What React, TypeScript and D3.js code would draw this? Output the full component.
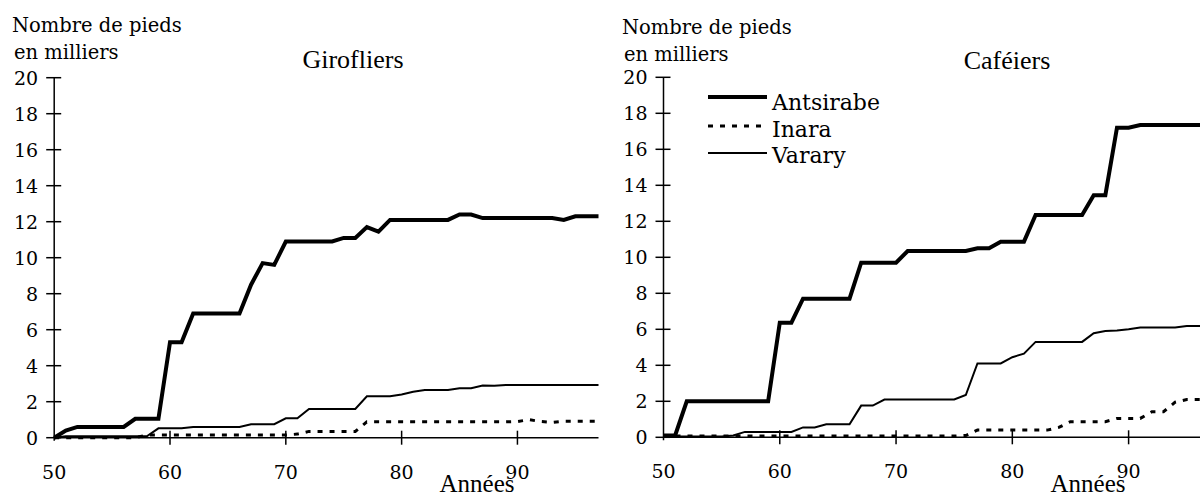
import * as d3 from 'd3';

// années 50 à 97, nombre de pieds en milliers
const years = d3.range(50, 98);

const giroAntsirabe = [
  0, 0.4, 0.6, 0.6, 0.6, 0.6, 0.6, 1.05, 1.05, 1.05,
  5.3, 5.3, 6.9, 6.9, 6.9, 6.9, 6.9, 8.5, 9.7, 9.6,
  10.9, 10.9, 10.9, 10.9, 10.9, 11.1, 11.1, 11.7, 11.45, 12.1,
  12.1, 12.1, 12.1, 12.1, 12.1, 12.4, 12.4, 12.2, 12.2, 12.2,
  12.2, 12.2, 12.2, 12.2, 12.1, 12.3, 12.3, 12.3,
];
const giroInara = [
  0, 0, 0, 0, 0, 0, 0, 0, 0.15, 0.15,
  0.15, 0.15, 0.15, 0.15, 0.15, 0.15, 0.15, 0.15, 0.15, 0.15,
  0.15, 0.2, 0.35, 0.35, 0.35, 0.35, 0.35, 0.88, 0.88, 0.88,
  0.88, 0.88, 0.88, 0.88, 0.88, 0.88, 0.88, 0.88, 0.88, 0.88,
  0.9, 1.0, 0.9, 0.85, 0.92, 0.92, 0.92, 0.92,
];
const giroVarary = [
  0, 0.08, 0.08, 0.08, 0.08, 0.08, 0.08, 0.08, 0.08, 0.52,
  0.52, 0.52, 0.6, 0.6, 0.6, 0.6, 0.6, 0.75, 0.75, 0.75,
  1.08, 1.08, 1.6, 1.6, 1.6, 1.6, 1.6, 2.3, 2.3, 2.3,
  2.4, 2.55, 2.65, 2.65, 2.65, 2.75, 2.75, 2.9, 2.88, 2.93,
  2.93, 2.93, 2.93, 2.93, 2.93, 2.93, 2.93, 2.93,
];

const cafeAntsirabe = [
  0.1, 0.1, 2.0, 2.0, 2.0, 2.0, 2.0, 2.0, 2.0, 2.0,
  6.37, 6.37, 7.7, 7.7, 7.7, 7.7, 7.7, 9.7, 9.7, 9.7,
  9.7, 10.35, 10.35, 10.35, 10.35, 10.35, 10.35, 10.5, 10.5, 10.87,
  10.87, 10.87, 12.35, 12.35, 12.35, 12.35, 12.35, 13.45, 13.45, 17.2,
  17.2, 17.35, 17.35, 17.35, 17.35, 17.35, 17.35, 17.35,
];
const cafeInara = [
  0.07, 0.07, 0.07, 0.07, 0.07, 0.07, 0.07, 0.07, 0.07, 0.07,
  0.07, 0.07, 0.07, 0.07, 0.07, 0.07, 0.07, 0.07, 0.07, 0.07,
  0.07, 0.07, 0.07, 0.07, 0.07, 0.07, 0.1, 0.4, 0.4, 0.4,
  0.4, 0.4, 0.4, 0.4, 0.55, 0.87, 0.87, 0.87, 0.87, 1.05,
  1.05, 1.05, 1.42, 1.42, 1.95, 2.1, 2.1, 2.1,
];
const cafeVarary = [
  0.05, 0.05, 0.05, 0.05, 0.05, 0.05, 0.1, 0.3, 0.3, 0.3,
  0.3, 0.3, 0.55, 0.55, 0.72, 0.72, 0.72, 1.76, 1.76, 2.1,
  2.1, 2.1, 2.1, 2.1, 2.1, 2.1, 2.35, 4.1, 4.1, 4.1,
  4.45, 4.65, 5.3, 5.3, 5.3, 5.3, 5.3, 5.78, 5.9, 5.93,
  6.0, 6.1, 6.1, 6.1, 6.1, 6.18, 6.18, 6.18,
];

const yTicks = d3.range(0, 21, 2);
const xTicks = [50, 60, 70, 80, 90];
const seriesNames = ['Antsirabe', 'Inara', 'Varary'];

const lineStyles: Record<string, { width: number; dash?: string }> = {
  Antsirabe: { width: 4 },
  Inara: { width: 3, dash: '5,7' },
  Varary: { width: 2 },
};

const serifA = '"DejaVu Serif", serif';
const serifB = '"Liberation Serif", "Times New Roman", serif';

interface PanelProps {
  title: string;
  data: number[][];
  xRange: [number, number];
  yRange: [number, number];
  labelX: number;
  labelY: number;
  titleX: number;
  titleY: number;
  anneesX: number;
  legend?: boolean;
}

function Panel({ title, data, xRange, yRange, labelX, labelY, titleX, titleY, anneesX, legend }: PanelProps) {
  const x = d3.scaleLinear().domain([50, 97]).range(xRange);
  const y = d3.scaleLinear().domain([0, 20]).range(yRange);
  const line = d3.line<number>().x((_, i) => x(years[i])).y(d => y(d));
  const x0 = x(50);
  const y0 = y(0);

  return (
    <g>
      <text x={labelX} y={labelY} fontFamily={serifA} fontSize={19.5}>Nombre de pieds</text>
      <text x={labelX + 2} y={labelY + 26.5} fontFamily={serifA} fontSize={19.5}>en milliers</text>
      <text x={titleX} y={titleY} textAnchor="middle" fontFamily={serifB} fontSize={26}>{title}</text>

      {/* axe Y */}
      <line x1={x0} x2={x0} y1={y(20)} y2={y0 + 3} stroke="#000" strokeWidth={1.5} />
      {yTicks.map(t => (
        <g key={t}>
          <line x1={x0 - 8} x2={x0 + 7} y1={y(t)} y2={y(t)} stroke="#000" strokeWidth={1.5} />
          <text x={x0 - 16} y={y(t)} dy="0.36em" textAnchor="end" fontFamily={serifA} fontSize={19}>{t}</text>
        </g>
      ))}

      {/* axe X */}
      <line x1={x0} x2={x(97)} y1={y0} y2={y0} stroke="#000" strokeWidth={1.5} />
      {xTicks.map(t => (
        <g key={t}>
          {t > 50 && <line x1={x(t)} x2={x(t)} y1={y0 - 7} y2={y0 + 7} stroke="#000" strokeWidth={1.5} />}
          <text x={x(t)} y={y0 + 41} textAnchor="middle" fontFamily={serifA} fontSize={19}>{t}</text>
        </g>
      ))}
      <text x={anneesX} y={492} textAnchor="middle" fontFamily={serifB} fontSize={25}>Années</text>

      {data.map((vals, i) => {
        const st = lineStyles[seriesNames[i]];
        return (
          <path key={i} d={line(vals) || ''} fill="none" stroke="#000"
            strokeWidth={st.width} strokeDasharray={st.dash} strokeLinejoin="miter" />
        );
      })}

      {legend && seriesNames.map((name, i) => {
        const st = lineStyles[name];
        const ly = [97, 126, 153][i];
        const ty = [110, 137, 163][i];
        return (
          <g key={name}>
            <line x1={708} x2={767} y1={ly} y2={ly} stroke="#000" strokeWidth={st.width} strokeDasharray={st.dash} />
            <text x={772} y={ty} fontFamily={serifA} fontSize={22}>{name}</text>
          </g>
        );
      })}
    </g>
  );
}

export default function App() {
  return (
    <svg width={1200} height={496} style={{ position: 'absolute', left: 0, top: 0, background: '#fff' }}>
      <rect width={1200} height={496} fill="#fff" />
      <Panel
        title="Girofliers"
        data={[giroAntsirabe, giroInara, giroVarary]}
        xRange={[54.2, 598.5]}
        yRange={[437.7, 77.7]}
        labelX={12}
        labelY={32}
        titleX={353}
        titleY={68}
        anneesX={477}
      />
      <Panel
        title="Caféiers"
        data={[cafeAntsirabe, cafeInara, cafeVarary]}
        xRange={[663.5, 1210]}
        yRange={[437.3, 77.3]}
        labelX={622}
        labelY={34}
        titleX={1007}
        titleY={69}
        anneesX={1088}
        legend
      />
    </svg>
  );
}
